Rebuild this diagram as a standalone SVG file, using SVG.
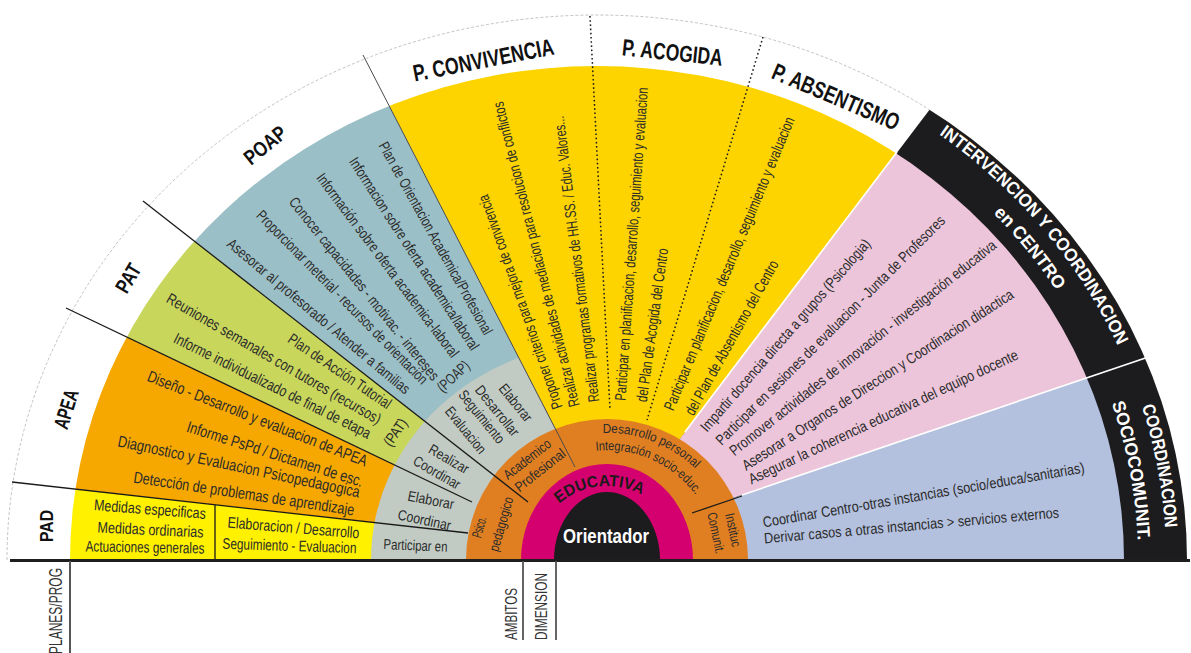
<svg xmlns="http://www.w3.org/2000/svg" width="1191" height="653" viewBox="0 0 1191 653">
<style>
.b{font-family:'Liberation Sans',Arial,sans-serif;font-size:15px;fill:#2b2b2b;text-anchor:middle;dominant-baseline:central}
.h{font-family:'Liberation Sans',Arial,sans-serif;font-weight:bold;font-size:21px;fill:#111;text-anchor:middle;dominant-baseline:central}
.w{font-family:'Liberation Sans',Arial,sans-serif;font-weight:bold;font-size:18px;fill:#fff;text-anchor:middle}
.v{font-family:'Liberation Sans',Arial,sans-serif;font-size:17px;fill:#333;text-anchor:middle}
.cp{font-family:'Liberation Sans',Arial,sans-serif;font-size:13px;fill:#2b2b2b;text-anchor:middle}
.ln{fill:none;stroke:#1a1a1a;stroke-width:1.3}
.dot{fill:none;stroke:#1a1a1a;stroke-width:1.5;stroke-dasharray:1.6 2.6}
.wl{fill:none;stroke:#fff;stroke-width:1.6}
</style>
<defs>
<clipPath id="cInner"><path d="M70,560 A527,494 0 0 1 1124,560 Z"/></clipPath>
<clipPath id="cOuter"><path d="M7,560 A590,545 0 0 1 1187,560 Z"/></clipPath>
<clipPath id="cGray"><path d="M371,560 A236,218 0 0 1 843,560 Z"/></clipPath>
<path id="pInt1" d="M782.4,56.3 A569,533.5 0 0 1 1163.8,514.2"/>
<path id="pInt2" d="M782.5,82 A541,507 0 0 1 1136.7,525"/>
<path id="pSoc1" d="M1063.1,254 A569,533.5 0 0 1 1146.6,698"/>
<path id="pSoc2" d="M1040.2,269 A541,507 0 0 1 1119.6,691.2"/>
<path id="pDes" d="M481.9,537.9 A127,127 0 0 1 732.1,537.9"/>
<path id="pIntg" d="M498.7,540.9 A110,110 0 0 1 715.3,540.9"/>
<path id="pEdu" d="M533,560 A74,74 0 0 1 681,560"/>
</defs>
<rect width="1191" height="653" fill="#fff"/>

<g id="band-black" clip-path="url(#cOuter)">
<polygon points="607,560 664,460 1156,-189 1500,-189 1500,560" fill="#1c1b1d"/>
</g>

<g id="sectors" clip-path="url(#cInner)">
<polygon id="s-pad" points="-200,560 -200,458 490,535.5 607,560" fill="#fff100"/>
<polygon id="s-apea" points="-200,458 -200,181 500,515 607,560 490,535.5" fill="#f6a800"/>
<polygon id="s-pat" points="-200,181 -100,11 528,502 607,560 500,515" fill="#c8d65b"/>
<polygon id="s-poap" points="-100,11 226,-212 575,467 607,560 528,502" fill="#9bbfc6"/>
<polygon id="s-planes" points="226,-212 576,-260 856,-269 1156,-189 664,460 607,560 575,467" fill="#fdd400"/>
<polygon id="s-centro" points="1156,-189 1411,268 715,504 607,560 664,460" fill="#ecc5da"/>
<polygon id="s-socio" points="1411,268 1400,560 607,560 715,504" fill="#b3c0de"/>
</g>

<g id="gray-ring" clip-path="url(#cGray)">
<polygon points="-200,560 -200,458 -200,181 -100,11 226,-212 575,467 607,560" fill="#c1cbc4"/>
</g>

<g id="ambitos-ring">
<path d="M466,560 A141,141 0 0 1 748,560 Z" fill="#e07f22"/>
</g>
<g id="dimension-ring">
<path d="M521,560 A86,96 0 0 1 693,560 Z" fill="#d5006f"/>
</g>
<g id="orientador">
<path d="M554,560 A53,68 0 0 1 660,560 Z" fill="#1c1b1d"/>
</g>

<g id="connectors">
<path d="M7,560 A590,545 0 0 1 929.5,109.8" fill="none" stroke="#bbb" stroke-width="0.9" stroke-dasharray="3 2"/>
<line class="ln" x1="12" y1="482" x2="468" y2="533"/>
<line class="ln" x1="66" y1="308" x2="472" y2="502"/>
<line class="ln" x1="143" y1="201" x2="528" y2="502"/>
<line x1="363" y1="55" x2="575" y2="467" stroke="#4a4a4a" stroke-width="1"/>
<line class="dot" x1="590" y1="16" x2="610" y2="410"/>
<line class="dot" x1="763" y1="37" x2="647" y2="420"/>
<line class="wl" x1="685" y1="432" x2="897" y2="152"/>
<line class="wl" x1="742" y1="495" x2="1172" y2="349"/>
<line class="ln" x1="692" y1="513" x2="742" y2="496"/>
<line class="ln" x1="215" y1="505" x2="215" y2="560"/>
<line x1="10" y1="560.5" x2="1190" y2="560.5" stroke="#1e1e1e" stroke-width="3"/>
<line x1="70" y1="561" x2="70" y2="653" stroke="#555" stroke-width="2"/>
<line x1="523" y1="561" x2="523" y2="640" stroke="#555" stroke-width="1.8"/>
<line x1="556" y1="561" x2="556" y2="640" stroke="#555" stroke-width="1.8"/>
</g>

<g id="pad">
<text class="h" style="font-size:19px" transform="translate(46.5 526) rotate(-90)" textLength="32" lengthAdjust="spacingAndGlyphs">PAD</text>
<text class="b" style="font-size:15.5px" transform="translate(150 509) rotate(4.5)" textLength="112" lengthAdjust="spacingAndGlyphs">Medidas especificas</text>
<text class="b" style="font-size:15.5px" transform="translate(150.5 529.5) rotate(2.7)" textLength="106" lengthAdjust="spacingAndGlyphs">Medidas ordinarias</text>
<text class="b" style="font-size:15.5px" transform="translate(145 547) rotate(1)" textLength="119" lengthAdjust="spacingAndGlyphs">Actuaciones generales</text>
<text class="b" style="font-size:15.5px" transform="translate(293.5 527.5) rotate(4.7)" textLength="132" lengthAdjust="spacingAndGlyphs">Elaboracion / Desarrollo</text>
<text class="b" style="font-size:15.5px" transform="translate(289.5 545.5) rotate(2)" textLength="134" lengthAdjust="spacingAndGlyphs">Seguimiento - Evaluacion</text>
<text class="b" style="font-size:14.5px" transform="translate(415.5 545.5) rotate(2.5)" textLength="64" lengthAdjust="spacingAndGlyphs">Participar en</text>
</g>

<g id="apea">
<text class="h" transform="translate(66 409) rotate(-73)" textLength="40" lengthAdjust="spacingAndGlyphs">APEA</text>
<text class="b" style="font-size:16px" transform="translate(257.5 418.5) rotate(21.5)" textLength="235" lengthAdjust="spacingAndGlyphs">Diseño - Desarrollo y evaluacion de APEA</text>
<text class="b" style="font-size:16px" transform="translate(275 454) rotate(17.6)" textLength="184" lengthAdjust="spacingAndGlyphs">Informe PsPd / Dictamen de esc.</text>
<text class="b" style="font-size:16px" transform="translate(239 466.5) rotate(12)" textLength="247" lengthAdjust="spacingAndGlyphs">Diagnostico y  Evaluacion Psicopedagogica</text>
<text class="b" style="font-size:16px" transform="translate(244 493.5) rotate(8.5)" textLength="223" lengthAdjust="spacingAndGlyphs">Detección de problemas de aprendizaje</text>
<text class="b" style="font-size:14.5px" transform="translate(431 500) rotate(11)" textLength="47" lengthAdjust="spacingAndGlyphs">Elaborar</text>
<text class="b" style="font-size:14.5px" transform="translate(424.5 520) rotate(12)" textLength="54" lengthAdjust="spacingAndGlyphs">Coordinar</text>
</g>

<g id="pat">
<text class="h" transform="translate(128 278) rotate(-59)" textLength="30" lengthAdjust="spacingAndGlyphs">PAT</text>
<text class="b" style="font-size:15.5px" transform="translate(340 371) rotate(34.2)" textLength="121" lengthAdjust="spacingAndGlyphs">Plan de Acción Tutorial</text>
<text class="b" style="font-size:15.5px" transform="translate(274 358.5) rotate(30.1)" textLength="245" lengthAdjust="spacingAndGlyphs">Reuniones semanales con tutores (recursos)</text>
<text class="b" style="font-size:15.5px" transform="translate(272.5 385.5) rotate(26.4)" textLength="218" lengthAdjust="spacingAndGlyphs">Informe individualizado de final de etapa</text>
<text class="b" style="font-size:15px" transform="translate(395 432) rotate(-55)" textLength="30" lengthAdjust="spacingAndGlyphs">(PAT)</text>
<text class="b" style="font-size:14.5px" transform="translate(449 459) rotate(30)" textLength="44" lengthAdjust="spacingAndGlyphs">Realizar</text>
<text class="b" style="font-size:14.5px" transform="translate(437 472.5) rotate(30)" textLength="52" lengthAdjust="spacingAndGlyphs">Coordinar</text>
</g>

<g id="poap">
<text class="h" transform="translate(265 145) rotate(-39)" textLength="48" lengthAdjust="spacingAndGlyphs">POAP</text>
<text class="b" transform="translate(436 238) rotate(60.9)" textLength="218" lengthAdjust="spacingAndGlyphs">Plan de Orientacion Academica/Profesional</text>
<text class="b" transform="translate(414.5 253.5) rotate(57.1)" textLength="226" lengthAdjust="spacingAndGlyphs">Informacion sobre oferta academica/laboral</text>
<text class="b" transform="translate(388 265) rotate(53.1)" textLength="226" lengthAdjust="spacingAndGlyphs">Información sobre oferta academica-laboral</text>
<text class="b" transform="translate(364.5 288.5) rotate(51.2)" textLength="230" lengthAdjust="spacingAndGlyphs">Conocer capacidades - motivac. - intereses</text>
<text class="b" transform="translate(342.5 297) rotate(45.5)" textLength="237" lengthAdjust="spacingAndGlyphs">Proporcionar meterial - recursos de orientación</text>
<text class="b" transform="translate(319 316) rotate(39.9)" textLength="233" lengthAdjust="spacingAndGlyphs">Asesorar al profesorado / Atender a familias</text>
<text class="b" transform="translate(453 376) rotate(-43)" textLength="38" lengthAdjust="spacingAndGlyphs">(POAP)</text>
<text class="b" style="font-size:14.5px" transform="translate(515.7 402.7) rotate(51)" textLength="44" lengthAdjust="spacingAndGlyphs">Elaborar</text>
<text class="b" style="font-size:14.5px" transform="translate(497.3 410.7) rotate(51)" textLength="61" lengthAdjust="spacingAndGlyphs">Desarrollar</text>
<text class="b" style="font-size:14.5px" transform="translate(481.7 416.7) rotate(51)" textLength="64" lengthAdjust="spacingAndGlyphs">Seguimiento</text>
<text class="b" style="font-size:14.5px" transform="translate(465.7 430) rotate(51)" textLength="56" lengthAdjust="spacingAndGlyphs">Evaluacion</text>
</g>

<g id="convivencia">
<text class="h" style="font-size:23.5px" transform="translate(483.5 60) rotate(-11)" textLength="143" lengthAdjust="spacingAndGlyphs">P. CONVIVENCIA</text>
<text class="b" style="font-size:15.5px" transform="translate(520 302) rotate(-109.4)" textLength="226" lengthAdjust="spacingAndGlyphs">Proponer criterios para mejora de convivencia</text>
<text class="b" style="font-size:15.5px" transform="translate(536 254.5) rotate(-104.2)" textLength="314" lengthAdjust="spacingAndGlyphs">Realizar actividades de mediacion para resolucion de conflictos</text>
<text class="b" style="font-size:15.5px" transform="translate(576 259) rotate(-97.1)" textLength="288" lengthAdjust="spacingAndGlyphs">Realizar programas formativos de HH.SS. / Educ. Valores...</text>
</g>

<g id="acogida">
<text class="h" style="font-size:23.5px" transform="translate(672.5 52.5) rotate(6)" textLength="101" lengthAdjust="spacingAndGlyphs">P. ACOGIDA</text>
<text class="b" style="font-size:15.5px" transform="translate(631.2 244) rotate(-85.9)" textLength="314" lengthAdjust="spacingAndGlyphs">Participar en planificacion, desarrollo, seguimiento y evaluacion</text>
<text class="b" style="font-size:15.5px" transform="translate(652 325) rotate(-82)" textLength="155" lengthAdjust="spacingAndGlyphs">del Plan de Acogida del Centro</text>
</g>

<g id="absentismo">
<text class="h" style="font-size:23.5px" transform="translate(836 97) rotate(23)" textLength="136" lengthAdjust="spacingAndGlyphs">P. ABSENTISMO</text>
<text class="b" style="font-size:15.5px" transform="translate(729 263.5) rotate(-67.4)" textLength="316" lengthAdjust="spacingAndGlyphs">Participar en planificacion, desarrollo, seguimiento y evaluacion</text>
<text class="b" style="font-size:15.5px" transform="translate(731.5 337.5) rotate(-60.7)" textLength="175" lengthAdjust="spacingAndGlyphs">del Plan de Absentismo del Centro</text>
</g>

<g id="intervencion-centro">
<text class="w"><textPath href="#pInt1" startOffset="50%" textLength="280" lengthAdjust="spacingAndGlyphs">INTERVENCION Y COORDINACION</textPath></text>
<text class="w"><textPath href="#pInt2" startOffset="50%" textLength="100" lengthAdjust="spacingAndGlyphs">en CENTRO</textPath></text>
<text class="b" transform="translate(785 335) rotate(-48.9)" textLength="250" lengthAdjust="spacingAndGlyphs">Impartir docencia directa a grupos (Psicologia)</text>
<text class="b" transform="translate(830 330) rotate(-45)" textLength="317" lengthAdjust="spacingAndGlyphs">Participar en sesiones de evaluacion - Junta de Profesores</text>
<text class="b" transform="translate(862.5 347.5) rotate(-38.5)" textLength="336" lengthAdjust="spacingAndGlyphs">Promover actividades de innovación - investigación educativa</text>
<text class="b" transform="translate(877.5 379.5) rotate(-32.9)" textLength="320" lengthAdjust="spacingAndGlyphs">Asesorar a Organos de Direccion y Coordinacion didactica</text>
<text class="b" transform="translate(883 416.5) rotate(-25.2)" textLength="296" lengthAdjust="spacingAndGlyphs">Asegurar la coherencia educativa del equipo docente</text>
</g>

<g id="coordinacion-sociocomunit">
<text class="w"><textPath href="#pSoc1" startOffset="50%" textLength="124" lengthAdjust="spacingAndGlyphs">COORDINACION</textPath></text>
<text class="w"><textPath href="#pSoc2" startOffset="50%" textLength="140" lengthAdjust="spacingAndGlyphs">SOCIOCOMUNIT.</textPath></text>
<text class="b" transform="translate(923.5 494.5) rotate(-9.7)" textLength="326" lengthAdjust="spacingAndGlyphs">Coordinar Centro-otras instancias (socio/educa/sanitarias)</text>
<text class="b" transform="translate(911.5 525) rotate(-5)" textLength="296" lengthAdjust="spacingAndGlyphs">Derivar casos a otras instancias &gt; servicios externos</text>
</g>

<g id="ambitos">
<text class="b" style="font-size:14px" transform="translate(527 459) rotate(-38)" textLength="56" lengthAdjust="spacingAndGlyphs">Academico</text>
<text class="b" style="font-size:14px" transform="translate(540 470) rotate(-38)" textLength="60" lengthAdjust="spacingAndGlyphs">Profesional</text>
<text class="b" style="font-size:14px" transform="translate(479 527) rotate(-74)" textLength="21" lengthAdjust="spacingAndGlyphs">Psico.</text>
<text class="b" style="font-size:14px" transform="translate(501 524) rotate(-74)" textLength="56" lengthAdjust="spacingAndGlyphs">pedagogico</text>
<text class="b" style="font-size:13.5px" transform="translate(733 530) rotate(78)" textLength="34" lengthAdjust="spacingAndGlyphs">Instituc</text>
<text class="b" style="font-size:13.5px" transform="translate(716 533) rotate(78)" textLength="42" lengthAdjust="spacingAndGlyphs">Comunit.</text>
<text class="cp"><textPath href="#pDes" startOffset="224" textLength="102" lengthAdjust="spacingAndGlyphs">Desarrollo personal</textPath></text>
<text class="cp"><textPath href="#pIntg" startOffset="199" textLength="114" lengthAdjust="spacingAndGlyphs">Integración socio-educ.</textPath></text>
</g>

<g id="educativa">
<text font-family="'Liberation Sans',Arial,sans-serif" font-weight="bold" font-size="16" fill="#1a1a1a" text-anchor="middle"><textPath href="#pEdu" startOffset="108" textLength="88" lengthAdjust="spacingAndGlyphs">EDUCATIVA</textPath></text>
<text class="h" x="606" y="536" textLength="86" lengthAdjust="spacingAndGlyphs" style="fill:#fff;font-size:20px">Orientador</text>
</g>

<g id="axis-labels">
<text class="v" style="font-size:18px" transform="translate(62 611) rotate(-90)" textLength="86" lengthAdjust="spacingAndGlyphs">PLANES/PROG</text>
<text class="v" transform="translate(517 614) rotate(-90)" textLength="52" lengthAdjust="spacingAndGlyphs">AMBITOS</text>
<text class="v" transform="translate(547 606.5) rotate(-90)" textLength="67" lengthAdjust="spacingAndGlyphs">DIMENSION</text>
</g>
</svg>
